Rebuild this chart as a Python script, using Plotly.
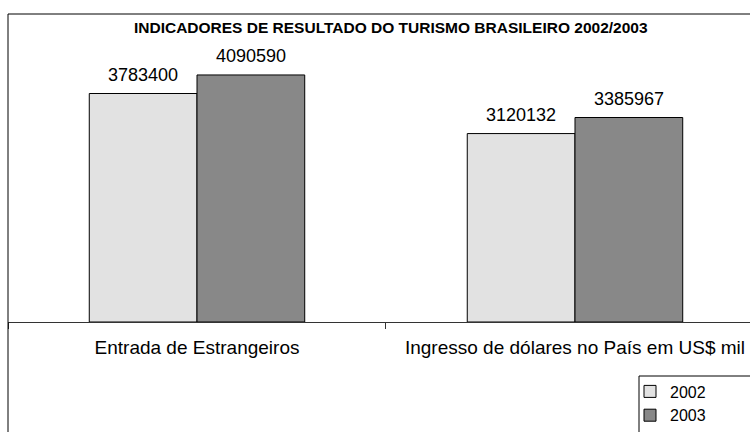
import plotly.graph_objects as go

categories = ["Entrada de Estrangeiros", "Ingresso de dólares no País em US$ mil"]
series_names = ["2002", "2003"]
values_2002 = [3783400, 3120132]
values_2003 = [4090590, 3385967]

colors = {"2002": "#e2e2e2", "2003": "#888888"}
FONT = "Liberation Sans, Arial, sans-serif"

fig = go.Figure()
for name, vals in zip(series_names, [values_2002, values_2003]):
    fig.add_trace(go.Bar(
        name=name,
        x=categories,
        y=vals,
        hoverinfo="skip",
        marker=dict(color=colors[name], line=dict(color="black", width=1)),
    ))

# value labels above each bar
for i, (name, vals) in enumerate(zip(series_names, [values_2002, values_2003])):
    shift = -54 if i == 0 else 54
    for cat, v in zip(categories, vals):
        fig.add_annotation(x=cat, y=v, text=str(v), showarrow=False,
                           xshift=shift, yshift=7, yanchor="bottom",
                           font=dict(family=FONT, size=18, color="black"))

fig.update_layout(
    width=750, height=432,
    paper_bgcolor="white", plot_bgcolor="white",
    margin=dict(l=8, r=0, t=14, b=110, autoexpand=False),
    barmode="group", bargap=0.43, bargroupgap=0,
    title=dict(text="<b>INDICADORES DE RESULTADO DO TURISMO BRASILEIRO 2002/2003</b>",
               font=dict(family=FONT, size=15.5, color="black"),
               x=0.521, xanchor="center", y=1 - 28 / 432, yanchor="middle"),
    showlegend=True,
    legend=dict(x=(630 - 8) / 742, xanchor="left", y=(322 - 374.5) / 308, yanchor="top",
                font=dict(family=FONT, size=16, color="black"),
                bgcolor="rgba(0,0,0,0)", borderwidth=0,
                itemwidth=30, traceorder="normal"),
    font=dict(family=FONT, color="black"),
)

fig.update_xaxes(
    type="category", range=[-0.5, 1.463],
    showline=True, linecolor="#333333", linewidth=1,
    ticks="outside", tickson="boundaries", ticklen=6, tickcolor="#333333",
    ticklabelstandoff=8,
    tickfont=dict(family=FONT, size=19, color="black"),
    showgrid=False, zeroline=False,
)
fig.update_yaxes(
    range=[0, 5.1e6], visible=False, showgrid=False, zeroline=False,
)

# chart frame (extends off the page at right and bottom, as in the reference)
fig.add_shape(type="rect", xref="paper", yref="paper",
              x0=0, x1=1.2, y0=-1.0, y1=1.0,
              line=dict(color="black", width=1), fillcolor="rgba(0,0,0,0)", layer="above")
# legend frame
fig.add_shape(type="rect", xref="paper", yref="paper",
              x0=(639 - 8) / 742, x1=1.2, y0=-1.0, y1=(322 - 376) / 308,
              line=dict(color="black", width=1), fillcolor="rgba(0,0,0,0)", layer="above")

fig.write_html("out.html", config={"displayModeBar": False},
               post_script="document.body.style.margin='0';")
